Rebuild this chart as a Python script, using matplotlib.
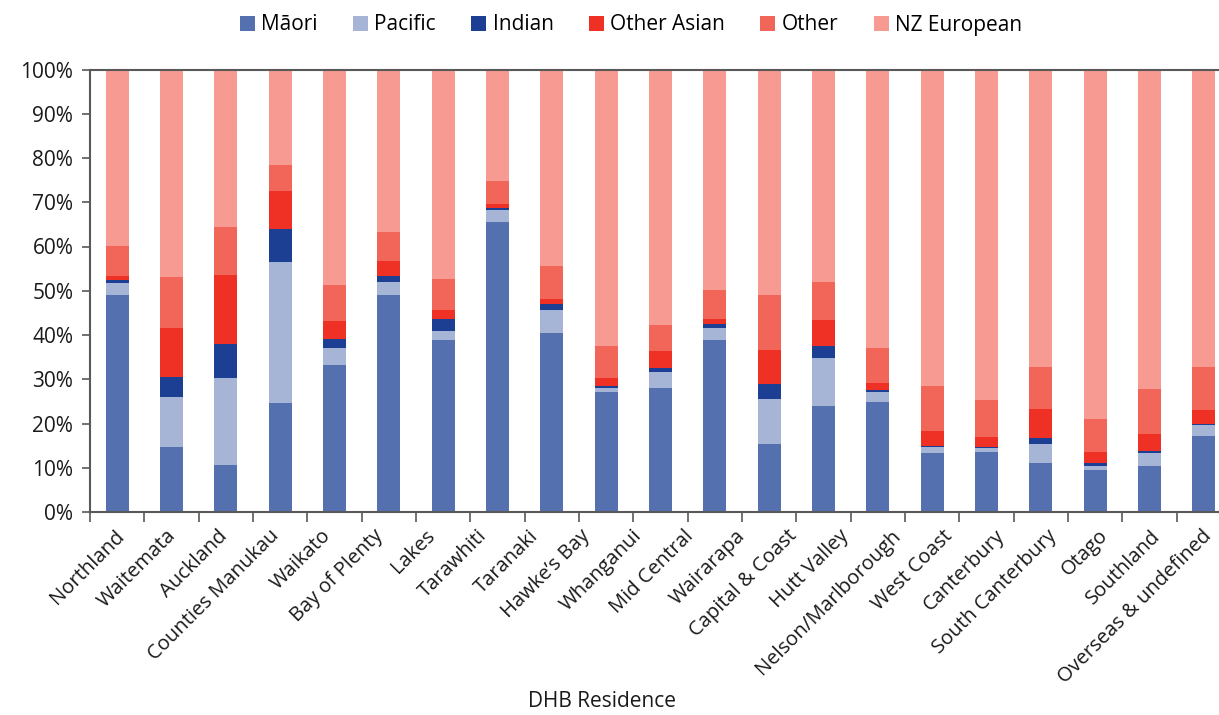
import numpy as np
import matplotlib.pyplot as plt
from matplotlib.ticker import FixedLocator, FuncFormatter

plt.rcParams['font.family'] = ['Open Sans', 'DejaVu Sans']

# Category labels along the x axis
dhb_labels = ["Northland", "Waitemata", "Auckland", "Counties Manukau", "Waikato",
              "Bay of Plenty", "Lakes", "Tarawhiti", "Taranaki", "Hawke\u2019s Bay",
              "Whanganui", "Mid Central", "Wairarapa", "Capital & Coast", "Hutt Valley",
              "Nelson/Marlborough", "West Coast", "Canterbury", "South Canterbury",
              "Otago", "Southland", "Overseas & undefined"]

# Ethnic shares (%) for each bar, bottom to top
maori = [49.1, 14.7, 10.6, 24.7, 33.3, 49.1, 38.9, 65.6, 40.5, 27.1, 28.0,
         38.9, 15.4, 24.0, 24.9, 13.3, 13.6, 11.1, 9.5, 10.4, 17.2]
pacific = [2.7, 11.3, 19.7, 31.9, 3.8, 2.9, 2.1, 2.7, 5.2, 0.9, 3.7,
           2.7, 10.2, 10.8, 2.2, 1.4, 0.9, 4.3, 0.9, 2.9, 2.5]
indian = [0.7, 4.5, 7.7, 7.4, 2.0, 1.4, 2.7, 0.3, 1.4, 0.5, 0.9,
          0.9, 3.4, 2.8, 0.5, 0.2, 0.1, 1.3, 0.7, 0.5, 0.2]
other_asian = [0.9, 11.1, 15.6, 8.6, 4.1, 3.4, 2.0, 1.1, 1.1, 1.8, 3.8,
               1.2, 7.7, 5.8, 1.6, 3.4, 2.4, 6.6, 2.5, 3.8, 3.2]
other = [6.8, 11.6, 10.9, 5.9, 8.2, 6.5, 7.0, 5.2, 7.5, 7.3, 5.9,
         6.5, 12.4, 8.6, 7.9, 10.2, 8.3, 9.5, 7.4, 10.2, 9.7]
nz_european = [39.8, 46.8, 35.5, 21.5, 48.6, 36.7, 47.3, 25.1, 44.3, 62.4, 57.7,
               49.8, 50.9, 48.0, 62.9, 71.5, 74.7, 67.2, 79.0, 72.2, 67.2]

series_names = ["M\u0101ori", "Pacific", "Indian", "Other Asian", "Other", "NZ European"]
series_values = [maori, pacific, indian, other_asian, other, nz_european]
series_colors = ["#5470AF", "#A6B4D6", "#1C3F94", "#EE3124", "#F2665A", "#F79A91"]

fig = plt.figure(figsize=(12.19, 7.15), dpi=100)
ax = fig.add_axes([90 / 1219, 1 - 512 / 715, 1 - 90 / 1219, (512 - 69.5) / 715])

x = np.arange(len(maori))
bottom = np.zeros(len(maori))
for name, vals, col in zip(series_names, series_values, series_colors):
    vals = np.asarray(vals)
    ax.bar(x, vals, width=0.42, bottom=bottom, color=col, label=name, zorder=2)
    bottom += vals

axis_grey = "#595959"
ax.set_xlim(-0.5, 20.28)
ax.set_ylim(0, 100)
ax.yaxis.set_major_locator(FixedLocator(np.arange(0, 101, 10)))
ax.yaxis.set_major_formatter(FuncFormatter(lambda v, p: f"{v:.0f}%"))
ax.xaxis.set_major_locator(FixedLocator(np.arange(-0.5, 20.3, 1.0)))
ax.set_xticklabels([])
ax.tick_params(axis='y', direction='out', length=6, width=1.2, color=axis_grey,
               labelsize=15, pad=6, labelcolor="#1a1a1a")
ax.tick_params(axis='x', direction='out', length=7, width=1.2, color=axis_grey)
for side in ("left", "bottom", "top"):
    ax.spines[side].set_color(axis_grey)
    ax.spines[side].set_linewidth(1.5)
    ax.spines[side].set_zorder(3)
ax.spines["right"].set_visible(False)

# Category names on a separate bottom axis
lab = ax.twiny()
lab.set_xlim((90 - 114) / 51.8, (1219 - 114) / 51.8)
lab.xaxis.set_ticks_position('bottom')
lab.xaxis.set_label_position('bottom')
for s in lab.spines.values():
    s.set_visible(False)
lab.set_xticks(np.arange(len(dhb_labels)))
lab.set_xticklabels(dhb_labels, rotation=45, ha='right', rotation_mode='anchor',
                    fontsize=14.5, color="#1a1a1a")
lab.tick_params(axis='x', length=0, pad=10)

ax.set_xlabel("DHB Residence", fontsize=15, color="#1a1a1a")
ax.xaxis.set_label_coords((602 - 90) / 1129, -0.405)

handles, labels = ax.get_legend_handles_labels()
fig.legend(handles, labels, loc='center', bbox_to_anchor=(631 / 1219, 1 - 25 / 715),
           ncol=6, frameon=False, fontsize=15, handlelength=0.72, handleheight=0.72,
           handletextpad=0.3, columnspacing=1.7, borderaxespad=0, borderpad=0)

fig.savefig("out.png", dpi=100)
